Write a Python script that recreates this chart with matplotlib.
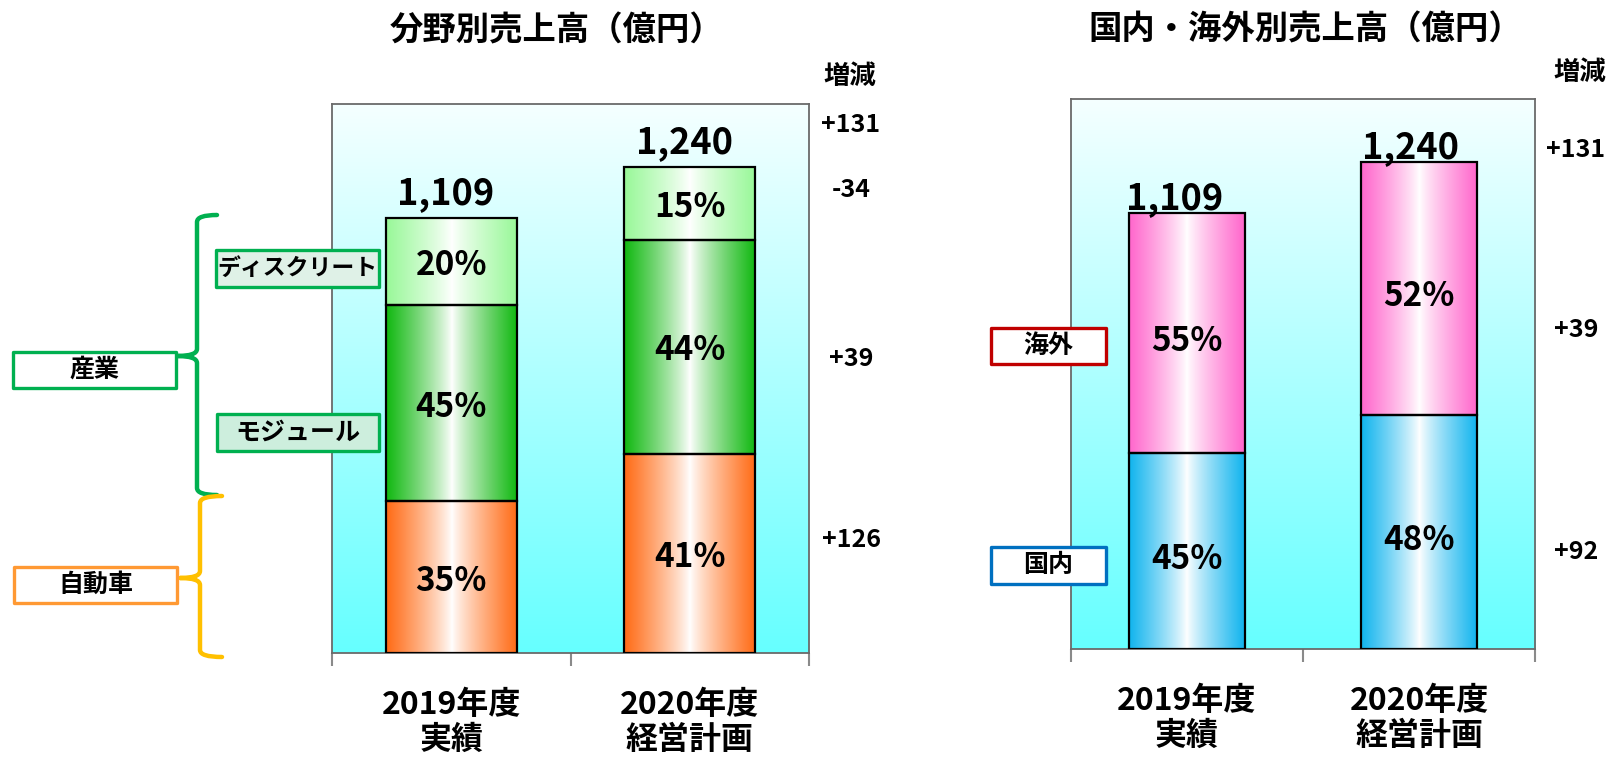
import numpy as np
import matplotlib
matplotlib.use('Agg')
import matplotlib.pyplot as plt
from matplotlib.path import Path
from matplotlib.patches import PathPatch, Rectangle

plt.rcParams['font.family'] = ['Noto Sans CJK JP', 'DejaVu Sans']
NUM_FONT = ['Noto Sans CJK JP', 'DejaVu Sans']

W, H = 1619, 762

# --- data ---
YEARS = ['2019年度\n実績', '2020年度\n経営計画']
TOTALS = [1109, 1240]
TOTAL_LABELS = ['1,109', '1,240']
TOTAL_DELTA = '+131'

SEG_NAMES = ['自動車', 'モジュール', 'ディスクリート']
SEG_PCT = [[35, 41], [45, 44], [20, 15]]
SEG_DELTA = ['+126', '+39', '-34']

REGION_NAMES = ['国内', '海外']
REGION_PCT = [[45, 48], [55, 52]]
REGION_DELTA = ['+92', '+39']

SEG_COLORS = ['#ff6a14', '#10b810', '#98f898']
REGION_COLORS = ['#10b4ee', '#ff66cc']


def fx(px):
    return px / W


def fy(py):
    return 1 - py / H


def hgrad(base, n=256):
    """Horizontal gradient: colour at the edges, white in the middle."""
    t = np.abs(np.linspace(-1, 1, n)) ** 0.85
    base = np.array(matplotlib.colors.to_rgb(base))
    rgb = (1 - t)[:, None] + t[:, None] * base[None, :]
    return rgb[None, :, :]


def setup_axes(rect):
    ax = fig.add_axes(rect)
    bg = np.linspace(np.array([0.40, 1, 1]), np.array([0.96, 1, 1]), 256)[:, None, :]
    ax.imshow(bg, extent=(0, 1, 0, 1), transform=ax.transAxes, aspect='auto',
              origin='lower', zorder=0)
    for sp in ax.spines.values():
        sp.set_color('#6a6a6a')
        sp.set_linewidth(1.3)
    ax.set_yticks([])
    ax.set_xticks([-0.5, 0.5, 1.5])
    ax.set_xticklabels(['', '', ''])
    ax.tick_params(axis='x', which='major', length=9, width=1.5, color='#8a8a8a')
    ax.set_xticks([0, 1], minor=True)
    ax.set_xticklabels(YEARS, minor=True, fontsize=23, fontweight='bold',
                       linespacing=1.1)
    ax.tick_params(axis='x', which='minor', length=0, pad=26)
    return ax


def draw_stack(ax, pcts, colors, width, pct_dy):
    x = np.arange(len(TOTALS))
    bottoms = np.zeros(len(TOTALS))
    for pct, col in zip(pcts, colors):
        heights = np.array([t * p / 100 for t, p in zip(TOTALS, pct)])
        bars = ax.bar(x, heights, width, bottom=bottoms, facecolor='none',
                      edgecolor='black', linewidth=1.6, zorder=3)
        for rect, p in zip(bars, pct):
            x0, y0 = rect.get_x(), rect.get_y()
            ax.imshow(hgrad(col), extent=(x0, x0 + rect.get_width(), y0,
                                          y0 + rect.get_height()),
                      aspect='auto', zorder=2)
            ax.annotate(f'{p}%', (x0 + rect.get_width() / 2, y0 + rect.get_height() / 2),
                        xytext=(0, pct_dy), textcoords='offset points',
                        ha='center', va='center', fontsize=24, fontweight='bold',
                        family=NUM_FONT, zorder=4)
        bottoms += heights
    return x


def totals(ax, x, dys, dxs):
    for xi, t, lab, dy, dx in zip(x, TOTALS, TOTAL_LABELS, dys, dxs):
        ax.annotate(lab, (xi, t), xytext=(dx, dy), textcoords='offset points',
                    ha='center', va='baseline', fontsize=26, fontweight='bold',
                    family=NUM_FONT, zorder=4)


def label_box(x0, y0, x1, y1, text, edge, face='white', size=18):
    fig.patches.append(Rectangle((fx(x0), fy(y1)), fx(x1) - fx(x0), fy(y0) - fy(y1),
                                 transform=fig.transFigure, facecolor=face,
                                 edgecolor=edge, linewidth=2.4, joinstyle='round',
                                 zorder=5))
    fig.text(fx((x0 + x1) / 2), fy((y0 + y1) / 2), text, ha='center', va='center',
             fontsize=size, fontweight='bold', zorder=6)


def brace(x, y_top, y_mid, y_bot, x_hook, x_tip, color, r=7):
    pts = [(x_hook, y_top), (x, y_top), (x, y_top + r),
           (x, y_mid - r), (x, y_mid), (x_tip, y_mid),
           (x, y_mid), (x, y_mid + r),
           (x, y_bot - r), (x, y_bot), (x_hook, y_bot)]
    codes = [Path.MOVETO, Path.CURVE3, Path.CURVE3,
             Path.LINETO, Path.CURVE3, Path.CURVE3,
             Path.CURVE3, Path.CURVE3,
             Path.LINETO, Path.CURVE3, Path.CURVE3]
    verts = [(fx(px), fy(py)) for px, py in pts]
    fig.patches.append(PathPatch(Path(verts, codes), transform=fig.transFigure,
                                 fill=False, edgecolor=color, linewidth=3.2,
                                 capstyle='round', joinstyle='round', zorder=5))


fig = plt.figure(figsize=(W / 100, H / 100), dpi=100)

# --- left: by segment ---
ax1 = setup_axes([fx(332), fy(653), (809 - 332) / W, (653 - 104) / H])
x1 = draw_stack(ax1, SEG_PCT, SEG_COLORS, 0.55, -3)
totals(ax1, x1, [10, 10], [-4, -4])
ax1.set_xlim(-0.5, 1.5)
ax1.set_ylim(0, 1400)

# --- right: domestic / overseas ---
ax2 = setup_axes([fx(1071), fy(649), (1535 - 1071) / W, (649 - 99) / H])
x2 = draw_stack(ax2, REGION_PCT, REGION_COLORS, 0.5, -6)
totals(ax2, x2, [3, 3], [-9, -6])
ax2.set_xlim(-0.5, 1.5)
ax2.set_ylim(0, 1400)

# titles
fig.text(fx(557), fy(31), '分野別売上高（億円）', ha='center', va='center',
         fontsize=24, fontweight='bold')
fig.text(fx(1305), fy(30), '国内・海外別売上高（億円）', ha='center', va='center',
         fontsize=24, fontweight='bold')

# change column
fig.text(fx(850), fy(76), '増減', ha='center', va='center', fontsize=19,
         fontweight='bold')
fig.text(fx(1580), fy(72), '増減', ha='center', va='center', fontsize=19,
         fontweight='bold')
left_delta_y = [540, 359, 190]
for d, py in zip([TOTAL_DELTA] + SEG_DELTA, [125] + left_delta_y):
    fig.text(fx(851), fy(py), d, ha='center', va='center', fontsize=18,
             fontweight='bold', family=NUM_FONT)
right_delta_y = [552, 330]
for d, py in zip([TOTAL_DELTA] + REGION_DELTA, [150] + right_delta_y):
    fig.text(fx(1576), fy(py), d, ha='center', va='center', fontsize=18,
             fontweight='bold', family=NUM_FONT)

# left annotations
brace(197, 215, 356, 495, 217, 177, '#00b050')
brace(200, 496, 578, 657, 222, 180, '#ffc000')
label_box(13, 352, 176, 388, '産業', '#00b050')
label_box(14, 567, 177, 603, SEG_NAMES[0], '#ff9933')
label_box(217, 414, 379, 451, SEG_NAMES[1], '#00b050', face='#cdeedd')
label_box(216, 250, 379, 287, SEG_NAMES[2], '#00b050', face='#dff1e7', size=16.5)

# right annotations
label_box(991, 547, 1106, 584, REGION_NAMES[0], '#0070c0')
label_box(991, 328, 1106, 364, REGION_NAMES[1], '#c00000')

fig.savefig('out.png', dpi=100)
